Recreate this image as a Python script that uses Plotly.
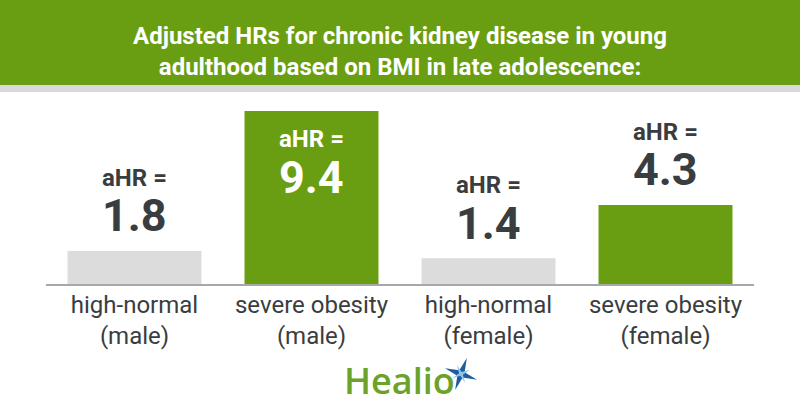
import math
import plotly.graph_objects as go

# data
categories = ["high-normal<br>(male)", "severe obesity<br>(male)",
              "high-normal<br>(female)", "severe obesity<br>(female)"]
ahr_values = [1.8, 9.4, 1.4, 4.3]
bar_colors = ["#dcdcdc", "#6a9e12", "#dcdcdc", "#6a9e12"]
value_labels = ["1.8", "9.4", "1.4", "4.3"]
label_inside = [False, True, False, False]

GREEN = "#6a9e12"
DARK = "#3a3d40"
W, H = 800, 420
ML, MR, MT, MB = 46, 46, 100, 136
PW, PH = W - ML - MR, H - MT - MB


def px2paper(x, y):
    # pixel coordinates -> paper coordinates
    return (x - ML) / PW, (H - MB - y) / PH


def star_path(cx, cy, r_out, r_in, rot):
    pts = []
    for k in range(8):
        ang = math.radians(rot + k * 45)
        r = r_out if k % 2 == 0 else r_in
        pts.append(px2paper(cx + r * math.cos(ang), cy - r * math.sin(ang)))
    return "M " + " L ".join(f"{a:.4f},{b:.4f}" for a, b in pts) + " Z"


fig = go.Figure()
fig.add_trace(go.Bar(x=list(range(len(categories))), y=ahr_values,
                     marker=dict(color=bar_colors, line=dict(width=0)),
                     width=0.757, hoverinfo="skip"))

for i, v in enumerate(ahr_values):
    col = "white" if label_inside[i] else DARK
    s1, s2 = (-28, -66) if label_inside[i] else (73, 35)
    fig.add_annotation(x=i, y=v, text="<b>aHR =</b>", showarrow=False,
                       yanchor="middle", yshift=s1,
                       font=dict(family="Roboto", size=24, color=col))
    fig.add_annotation(x=i, y=v, text="<b>" + value_labels[i] + "</b>",
                       showarrow=False, yanchor="middle", yshift=s2,
                       font=dict(family="Roboto", size=45, color=col))

# header band
x0, y0 = px2paper(0, 0)
x1, y1 = px2paper(W, 85)
fig.add_shape(type="rect", xref="paper", yref="paper", x0=x0, x1=x1,
              y0=y1, y1=y0, fillcolor=GREEN, line_width=0, layer="below")
_, y2 = px2paper(0, 92)
fig.add_shape(type="rect", xref="paper", yref="paper", x0=x0, x1=x1,
              y0=y2, y1=y1, fillcolor="#d9d9d9", line_width=0, layer="below")

# Healio logo
hx, hy = px2paper(399, 380)
fig.add_annotation(xref="paper", yref="paper", x=hx, y=hy, text="Healio",
                   showarrow=False, xanchor="center", yanchor="middle",
                   font=dict(family="Open Sans", size=36, weight=600,
                             color="#6aa22a"))
fig.add_shape(type="path", xref="paper", yref="paper",
              path=star_path(461, 374, 17, 4, -20),
              fillcolor="#1f5c9e", line_width=0)
fig.add_shape(type="path", xref="paper", yref="paper",
              path=star_path(461, 374, 10, 2, 25),
              fillcolor="#8cc4ea", line_width=0)

fig.update_layout(
    width=W, height=H, autosize=False,
    margin=dict(l=ML, r=MR, t=MT, b=MB),
    paper_bgcolor="white", plot_bgcolor="white",
    showlegend=False,
    title=dict(text="<b>Adjusted HRs for chronic kidney disease in young<br>"
                    "adulthood based on BMI in late adolescence:</b>",
               x=0.5, xanchor="center", y=1 - 44 / H, yanchor="middle",
               font=dict(family="Roboto", size=24, color="white")),
    xaxis=dict(range=[-0.5, 3.5], tickvals=list(range(len(categories))),
               ticktext=categories, showgrid=False, zeroline=False,
               showline=True, linecolor="#a8a8a8", linewidth=1.5,
               ticks="", ticklabelstandoff=-2,
               tickfont=dict(family="Roboto", size=24, color=DARK)),
    yaxis=dict(range=[0, 10], visible=False, showgrid=False),
)

fig.write_html("out.html", config={"displayModeBar": False},
               post_script="document.body.style.margin='0';")
